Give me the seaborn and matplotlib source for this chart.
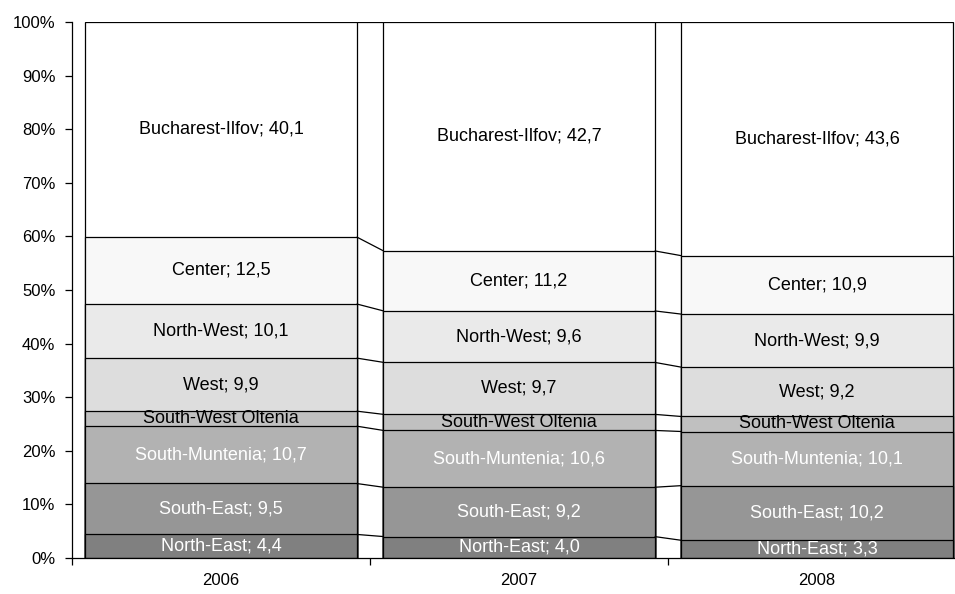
import matplotlib
matplotlib.use("Agg")
import matplotlib.pyplot as plt
import pandas as pd
import seaborn as sns
from matplotlib.ticker import FixedLocator, FuncFormatter

# GDP share by development region, % of total
years = ["2006", "2007", "2008"]
regions = ["North-East", "South-East", "South-Muntenia", "South-West Oltenia",
           "West", "North-West", "Center", "Bucharest-Ilfov"]

north_east = [4.4, 4.0, 3.3]
south_east = [9.5, 9.2, 10.2]
south_muntenia = [10.7, 10.6, 10.1]
south_west_oltenia = [2.8, 3.0, 2.8]
west = [9.9, 9.7, 9.2]
north_west = [10.1, 9.6, 9.9]
center = [12.5, 11.2, 10.9]
bucharest_ilfov = [40.1, 42.7, 43.6]

fills = ["#808080", "#969696", "#b2b2b2", "#c0c0c0",
         "#dddddd", "#eaeaea", "#f8f8f8", "#ffffff"]
text_colors = ["white", "white", "white", "black",
               "black", "black", "black", "black"]
show_value = [True, True, True, False, True, True, True, True]

df = pd.DataFrame(
    dict(zip(regions, [north_east, south_east, south_muntenia, south_west_oltenia,
                       west, north_west, center, bucharest_ilfov])),
    index=years,
)
share = df.div(df.sum(axis=1), axis=0) * 100
tops = share.cumsum(axis=1)

sns.set_theme(style="ticks")
plt.rcParams["font.family"] = ["Liberation Sans", "DejaVu Sans"]

fig = plt.figure(figsize=(9.55, 5.94), dpi=100)
ax = fig.add_axes([72 / 955, 36 / 594, 894 / 955, 536 / 594])

bar_width = 0.91

# stacked look: draw cumulative heights from the top series down
for region, color in reversed(list(zip(regions, fills))):
    sns.barplot(x=years, y=tops[region].values, color=color, saturation=1,
                width=bar_width, edgecolor="black", linewidth=0.9,
                errorbar=None, ax=ax)

# series lines between bars
for region in regions:
    for i in range(len(years) - 1):
        ax.plot([i + bar_width / 2, i + 1 - bar_width / 2],
                [tops[region].iloc[i], tops[region].iloc[i + 1]],
                color="black", linewidth=0.9, solid_capstyle="butt")

# segment labels
for region, tc, sv in zip(regions, text_colors, show_value):
    for i, year in enumerate(years):
        mid = tops[region].iloc[i] - share[region].iloc[i] / 2
        if sv:
            label = f"{region}; {df[region].iloc[i]:.1f}".replace(".", ",")
        else:
            label = region
        ax.text(i, mid, label, ha="center", va="center", fontsize=13, color=tc)

ax.set_xlim(-0.5, len(years) - 0.5)
ax.set_ylim(0, 100)
ax.yaxis.set_major_locator(FixedLocator(range(0, 101, 10)))
ax.yaxis.set_major_formatter(FuncFormatter(lambda v, p: f"{v:.0f}%"))
ax.xaxis.set_minor_locator(FixedLocator([i - 0.5 for i in range(len(years) + 1)]))
ax.tick_params(axis="x", which="major", length=0, pad=11, labelsize=12, colors="black")
ax.tick_params(axis="x", which="minor", length=5, width=0.9, direction="out", color="black")
ax.tick_params(axis="y", length=5, width=0.9, direction="out", pad=7,
               labelsize=12, colors="black")
ax.set_xlabel("")
ax.set_ylabel("")
sns.despine(ax=ax)
for side in ["left", "bottom"]:
    ax.spines[side].set_color("black")
    ax.spines[side].set_linewidth(0.9)

fig.savefig("out.png", dpi=100)
plt.close(fig)
